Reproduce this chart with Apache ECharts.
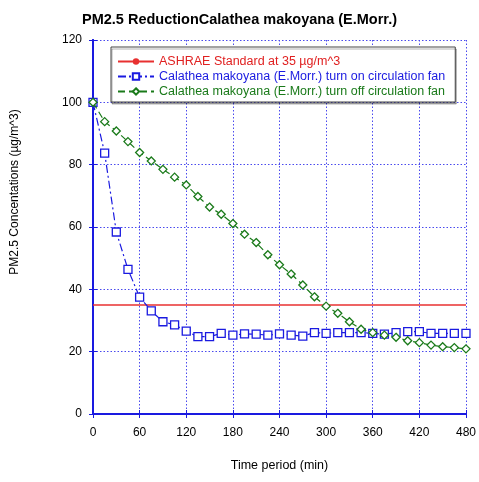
<!DOCTYPE html>
<html>
<head>
<meta charset="utf-8">
<script src="https://cdn.jsdelivr.net/npm/echarts@6/dist/echarts.min.js"></script>
<style>html,body{margin:0;padding:0;background:#fff}#c{width:479px;height:482px}</style>
</head>
<body>
<div id="c"></div>
<script>
var times = [0,15,30,45,60,75,90,105,120,135,150,165,180,195,210,225,240,255,270,285,300,315,330,345,360,375,390,405,420,435,450,465,480];
var fanOn = [100,83.7,58.4,46.4,37.5,33.1,29.6,28.6,26.6,24.8,24.8,25.9,25.3,25.7,25.6,25.3,25.7,25.3,25.0,26.1,25.9,26.1,26.1,26.1,25.9,25.6,26.1,26.4,26.4,25.9,25.9,25.9,25.9];
var fanOff = [100,93.8,90.8,87.4,83.9,81.2,78.5,76.0,73.5,69.8,66.4,64.1,61.1,57.7,55.0,51.1,47.9,44.9,41.4,37.6,34.6,32.3,29.6,27.2,26.1,25.3,24.6,23.5,22.9,22.1,21.6,21.3,20.9];
var standardTimes = [0,480];
var standardValues = [35,35];
var xTicks = [0,60,120,180,240,300,360,420,480];
var yTicks = [0,20,40,60,80,100,120];
var names = ['ASHRAE Standard at 35 µg/m^3','Calathea makoyana (E.Morr.) turn on circulation fan','Calathea makoyana (E.Morr.) turn off circulation fan'];

function pairs(xs, ys){ return xs.map(function(x,i){return [x, ys[i]];}); }

var FONT = 'Liberation Sans, Arial, sans-serif';
var gridLine = {show:true, lineStyle:{color:'#4a4aee', type:[1.5,2], width:1}};
var axisLine = {show:true, lineStyle:{color:'#1a1ae0', width:2}};
var tick = {show:true, inside:true, length:4, lineStyle:{color:'#1a1ae0'}};

var chart = echarts.init(document.getElementById('c'), null, {renderer:'canvas'});
chart.setOption({
  animation:false,
  backgroundColor:'#fff',
  title:{text:'PM2.5 ReductionCalathea makoyana (E.Morr.)', left:'center', top:7,
    textStyle:{fontFamily:FONT, fontSize:14.5, fontWeight:'bold', color:'#000'}},
  grid:{left:93, right:9, top:40, bottom:68},
  legend:{orient:'vertical', left:111, top:47, itemWidth:36, itemHeight:8, itemGap:2,
    padding:[8,10,4,6], backgroundColor:'#fff', borderColor:'#444', borderWidth:1,
    shadowColor:'rgba(0,0,0,0.3)', shadowOffsetX:1, shadowOffsetY:2, shadowBlur:0,
    textStyle:{fontFamily:FONT, fontSize:12.5, lineHeight:13},
    data:[
      {name:names[0], textStyle:{color:'#e02020'}},
      {name:names[1], textStyle:{color:'#1a1ae0'}},
      {name:names[2], textStyle:{color:'#1a7a1a'}}
    ]},
  xAxis:[{
    type:'value', min:0, max:480, interval:60,
    name:'Time period (min)', nameLocation:'middle', nameGap:45,
    nameTextStyle:{fontFamily:FONT, fontSize:12.5, color:'#000'},
    axisLine:axisLine, axisTick:tick,
    axisLabel:{fontFamily:FONT, fontSize:12, color:'#000', margin:13},
    splitLine:gridLine
  },{
    type:'value', min:0, max:480, interval:60, position:'top',
    axisLine:axisLine, axisTick:tick,
    axisLabel:{show:false}, splitLine:{show:false}
  }],
  yAxis:[{
    type:'value', min:0, max:120, interval:20,
    name:'PM2.5 Concentations (µg/m^3)', nameLocation:'middle', nameGap:72,
    nameTextStyle:{fontFamily:FONT, fontSize:12, color:'#000', padding:[0,0,0,70]},
    axisLine:axisLine, axisTick:tick,
    axisLabel:{fontFamily:FONT, fontSize:12, color:'#000', margin:11},
    splitLine:gridLine
  },{
    type:'value', min:0, max:120, interval:20, position:'right',
    axisLine:axisLine, axisTick:tick,
    axisLabel:{show:false}, splitLine:{show:false}
  }],
  series:[
    {name:names[0], type:'line', data:pairs(standardTimes, standardValues),
     symbol:'none', lineStyle:{color:'#e83030', width:1.5}, itemStyle:{color:'#e83030'}},
    {name:names[1], type:'line', data:pairs(times, fanOn),
     symbol:'rect', symbolSize:8, showAllSymbol:true,
     lineStyle:{color:'#1a1ae0', width:1.2, type:[8,3,2,3]},
     itemStyle:{color:'#fff', borderColor:'#1a1ae0', borderWidth:1.3}, z:3},
    {name:names[2], type:'line', data:pairs(times, fanOff),
     symbol:'diamond', symbolSize:8, showAllSymbol:true,
     lineStyle:{color:'#1a7a1a', width:1.2, type:[7,4]},
     itemStyle:{color:'#fff', borderColor:'#1a7a1a', borderWidth:1.3}, z:4}
  ]
});
</script>
</body>
</html>
